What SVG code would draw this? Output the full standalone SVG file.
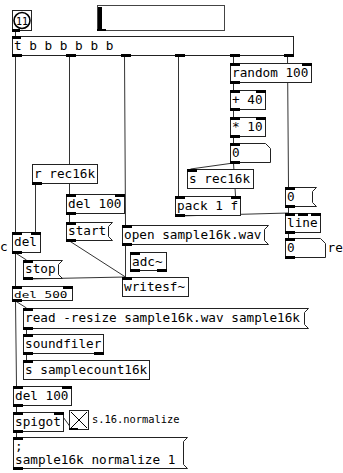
<svg xmlns="http://www.w3.org/2000/svg" width="343" height="473" viewBox="0 0 343 473">
<style>
.b{fill:#fff;stroke:#222;stroke-width:1}
.io{fill:#000}
.c{stroke:#333;stroke-width:1;fill:none}
text{font-family:"DejaVu Sans Mono","Liberation Mono",monospace;font-size:12.7px;fill:#000}
.sm{font-size:10.4px}
</style>
<rect width="343" height="473" fill="#fff"/>
<g id="connectors">
<line class="c" x1="15.5" y1="31" x2="15.5" y2="36"/>
<line class="c" x1="15.5" y1="56" x2="15.5" y2="232"/>
<line class="c" x1="69.5" y1="56" x2="69.5" y2="194"/>
<line class="c" x1="124.5" y1="56" x2="125.5" y2="225"/>
<line class="c" x1="178.5" y1="56" x2="178.5" y2="196"/>
<line class="c" x1="233.5" y1="56" x2="233.5" y2="63"/>
<line class="c" x1="287.5" y1="56" x2="288.5" y2="187"/>
<line class="c" x1="233.5" y1="83" x2="233.5" y2="90"/>
<line class="c" x1="233.5" y1="110" x2="233.5" y2="117"/>
<line class="c" x1="233.5" y1="137" x2="233.5" y2="143"/>
<line class="c" x1="233.5" y1="163" x2="190.5" y2="169"/>
<line class="c" x1="233.5" y1="163" x2="235.5" y2="196"/>
<line class="c" x1="178.5" y1="216" x2="288.5" y2="213"/>
<line class="c" x1="288.5" y1="207" x2="288.5" y2="213"/>
<line class="c" x1="288.5" y1="233" x2="288.5" y2="238"/>
<line class="c" x1="35.5" y1="184" x2="35.5" y2="232"/>
<line class="c" x1="15.5" y1="253" x2="26.5" y2="260"/>
<line class="c" x1="15.5" y1="253" x2="15.5" y2="286"/>
<line class="c" x1="69.5" y1="214" x2="69.5" y2="222"/>
<line class="c" x1="69.5" y1="241" x2="125.5" y2="277"/>
<line class="c" x1="125.5" y1="245" x2="125.5" y2="277"/>
<line class="c" x1="26.5" y1="279" x2="125.5" y2="277"/>
<line class="c" x1="15.5" y1="301" x2="26.5" y2="308"/>
<line class="c" x1="15.5" y1="301" x2="16.5" y2="386"/>
<line class="c" x1="26.5" y1="329" x2="26.5" y2="334"/>
<line class="c" x1="26.5" y1="354" x2="26.5" y2="360"/>
<line class="c" x1="16.5" y1="406" x2="16.5" y2="412"/>
<line class="c" x1="72.5" y1="430" x2="59.5" y2="412"/>
<line class="c" x1="16.5" y1="432" x2="16.5" y2="437"/>
</g>
<g id="bang">
<rect class="b" x="12.5" y="10.5" width="19" height="20"/>
<circle cx="22" cy="20.5" r="8" fill="#fff" stroke="#000" stroke-width="1.6"/>
<text x="22" y="24.5" text-anchor="middle" style="font-size:10px">11</text>
<rect class="io" x="12" y="29" width="8" height="3"/>
</g>
<g id="slider">
<rect class="b" x="97.5" y="5.5" width="127" height="25" style="stroke:#444"/>
<rect class="io" x="98" y="7" width="4" height="23"/>
<rect class="io" x="97" y="29" width="9" height="2"/>
</g>
<g id="trigger">
<rect class="b" x="12.5" y="36.5" width="281" height="19"/>
<text x="14" y="50">t b b b b b b</text>
<rect class="io" x="12" y="36" width="9" height="3"/>
<rect class="io" x="12" y="54" width="10" height="3"/>
<rect class="io" x="66" y="54" width="10" height="3"/>
<rect class="io" x="121" y="54" width="10" height="3"/>
<rect class="io" x="175" y="54" width="10" height="3"/>
<rect class="io" x="230" y="54" width="10" height="3"/>
<rect class="io" x="284" y="54" width="10" height="3"/>
</g>
<g id="random">
<rect class="b" x="230.5" y="63.5" width="81" height="19"/>
<text x="232" y="77">random 100</text>
<rect class="io" x="230" y="63" width="10" height="3"/>
<rect class="io" x="302" y="63" width="10" height="3"/>
<rect class="io" x="230" y="81" width="10" height="3"/>
</g>
<g id="plus">
<rect class="b" x="230.5" y="90.5" width="35" height="19"/>
<text x="232" y="104">+ 40</text>
<rect class="io" x="230" y="90" width="10" height="3"/>
<rect class="io" x="256" y="90" width="10" height="3"/>
<rect class="io" x="230" y="108" width="10" height="3"/>
</g>
<g id="times">
<rect class="b" x="230.5" y="117.5" width="35" height="19"/>
<text x="232" y="131">* 10</text>
<rect class="io" x="230" y="117" width="10" height="3"/>
<rect class="io" x="256" y="117" width="10" height="3"/>
<rect class="io" x="230" y="135" width="10" height="3"/>
</g>
<g id="num1">
<path class="b" d="M230.5,143.5 H265.5 L270.5,148.5 V162.5 H230.5 Z"/>
<text x="232" y="157">0</text>
<rect class="io" x="230" y="143" width="10" height="3"/>
<rect class="io" x="230" y="161" width="10" height="3"/>
</g>
<g id="srec">
<rect class="b" x="187.5" y="169.5" width="66" height="19"/>
<text x="189" y="183">s rec16k</text>
<rect class="io" x="187" y="169" width="10" height="3"/>
</g>
<g id="pack">
<rect class="b" x="175.5" y="196.5" width="65" height="19"/>
<text x="177" y="210">pack 1 f</text>
<rect class="io" x="175" y="196" width="10" height="3"/>
<rect class="io" x="231" y="196" width="10" height="3"/>
<rect class="io" x="175" y="214" width="10" height="3"/>
</g>
<g id="msg0">
<path class="b" d="M285.5,187.5 H316.5 L312.5,191.5 V202.5 L316.5,206.5 H285.5 Z"/>
<text x="287" y="201">0</text>
<rect class="io" x="285" y="187" width="10" height="3"/>
<rect class="io" x="285" y="205" width="10" height="3"/>
</g>
<g id="line">
<rect class="b" x="285.5" y="213.5" width="35" height="19"/>
<text x="287" y="227">line</text>
<rect class="io" x="285" y="213" width="10" height="3"/>
<rect class="io" x="298" y="213" width="10" height="3"/>
<rect class="io" x="311" y="213" width="10" height="3"/>
<rect class="io" x="285" y="231" width="10" height="3"/>
</g>
<g id="num2">
<path class="b" d="M285.5,238.5 H320.5 L325.5,243.5 V257.5 H285.5 Z"/>
<text x="287" y="252">0</text>
<text x="327.5" y="252">re</text>
<rect class="io" x="285" y="238" width="10" height="3"/>
<rect class="io" x="285" y="256" width="10" height="3"/>
</g>
<g id="rrec">
<rect class="b" x="32.5" y="164.5" width="65" height="19"/>
<text x="34" y="178">r rec16k</text>
<rect class="io" x="32" y="182" width="10" height="3"/>
</g>
<g id="comment-c">
<text x="0" y="251">c</text>
</g>
<g id="del">
<rect class="b" x="12.5" y="232.5" width="28" height="20"/>
<text x="14" y="246">del</text>
<rect class="io" x="12" y="232" width="10" height="3"/>
<rect class="io" x="31" y="232" width="10" height="3"/>
<rect class="io" x="12" y="251" width="10" height="3"/>
</g>
<g id="del100a">
<rect class="b" x="66.5" y="194.5" width="58" height="19"/>
<text x="68" y="208">del 100</text>
<rect class="io" x="66" y="194" width="10" height="3"/>
<rect class="io" x="115" y="194" width="10" height="3"/>
<rect class="io" x="66" y="212" width="10" height="3"/>
</g>
<g id="start">
<path class="b" d="M66.5,222.5 H112.5 L108.5,226.5 V236.5 L112.5,240.5 H66.5 Z"/>
<text x="68" y="235">start</text>
<rect class="io" x="66" y="222" width="10" height="3"/>
<rect class="io" x="66" y="239" width="10" height="3"/>
</g>
<g id="open">
<path class="b" d="M122.5,225.5 H268.5 L264.5,229.5 V240.5 L268.5,244.5 H122.5 Z"/>
<text x="124" y="239">open sample16k.wav</text>
<rect class="io" x="122" y="225" width="10" height="3"/>
<rect class="io" x="122" y="243" width="10" height="3"/>
</g>
<g id="adc">
<rect class="b" x="130.5" y="252.5" width="36" height="18"/>
<text x="132" y="266">adc~</text>
<rect class="io" x="130" y="252" width="10" height="3"/>
<rect class="io" x="130" y="269" width="10" height="3"/>
<rect class="io" x="157" y="269" width="10" height="3"/>
</g>
<g id="writesf">
<rect class="b" x="122.5" y="277.5" width="66" height="19"/>
<text x="124" y="291">writesf~</text>
<rect class="io" x="122" y="277" width="10" height="3"/>
</g>
<g id="stop">
<path class="b" d="M23.5,260.5 H62.5 L58.5,264.5 V274.5 L62.5,278.5 H23.5 Z"/>
<text x="25" y="273">stop</text>
<rect class="io" x="23" y="260" width="10" height="3"/>
<rect class="io" x="23" y="277" width="10" height="3"/>
</g>
<g id="del500">
<rect class="b" x="12.5" y="286.5" width="60" height="14"/>
<text transform="translate(14,297.5) scale(1,0.72)">del 500</text>
<rect class="io" x="12" y="286" width="10" height="3"/>
<rect class="io" x="63" y="286" width="10" height="3"/>
<rect class="io" x="12" y="299" width="10" height="3"/>
</g>
<g id="read">
<path class="b" d="M23.5,308.5 H308.5 L304.5,312.5 V324.5 L308.5,328.5 H23.5 Z"/>
<text x="25" y="322">read -resize sample16k.wav sample16k</text>
<rect class="io" x="23" y="308" width="10" height="3"/>
<rect class="io" x="23" y="327" width="10" height="3"/>
</g>
<g id="soundfiler">
<rect class="b" x="23.5" y="334.5" width="80" height="19"/>
<text x="25" y="348">soundfiler</text>
<rect class="io" x="23" y="334" width="10" height="3"/>
<rect class="io" x="23" y="352" width="10" height="3"/>
<rect class="io" x="94" y="352" width="10" height="3"/>
</g>
<g id="ssamplecount">
<rect class="b" x="23.5" y="360.5" width="126" height="19"/>
<text x="25" y="374">s samplecount16k</text>
<rect class="io" x="23" y="360" width="10" height="3"/>
</g>
<g id="del100b">
<rect class="b" x="13.5" y="386.5" width="58" height="19"/>
<text x="15" y="400">del 100</text>
<rect class="io" x="13" y="386" width="10" height="3"/>
<rect class="io" x="62" y="386" width="10" height="3"/>
<rect class="io" x="13" y="404" width="10" height="3"/>
</g>
<g id="spigot">
<rect class="b" x="13.5" y="412.5" width="50" height="19"/>
<text x="15" y="426">spigot</text>
<rect class="io" x="13" y="412" width="10" height="3"/>
<rect class="io" x="54" y="412" width="10" height="3"/>
<rect class="io" x="13" y="430" width="10" height="3"/>
</g>
<g id="toggle">
<rect class="b" x="69.5" y="410.5" width="19" height="19"/>
<path d="M71,412 L87,428 M87,412 L71,428" stroke="#000" stroke-width="1"/>
<rect class="io" x="69" y="428" width="9" height="2"/>
<text class="sm" x="92" y="423">s.16.normalize</text>
</g>
<g id="normmsg">
<path class="b" d="M13.5,437.5 H187.5 L183.5,441.5 V464.5 L187.5,468.5 H13.5 Z"/>
<text x="15" y="450">;</text>
<text x="15" y="464">sample16k normalize 1</text>
<rect class="io" x="13" y="437" width="10" height="3"/>
<rect class="io" x="13" y="467" width="10" height="3"/>
</g>
</svg>
